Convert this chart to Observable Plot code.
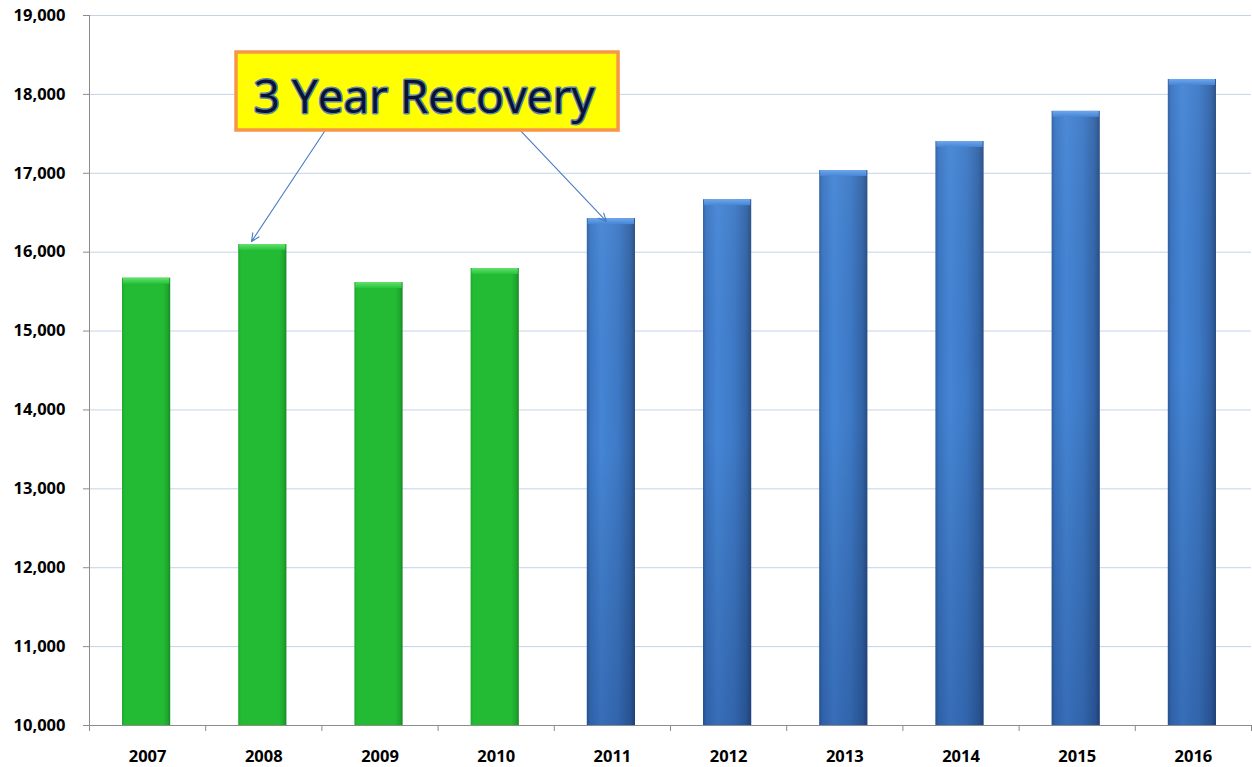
<!DOCTYPE html>
<html>
<head>
<meta charset="utf-8">
<script src="https://cdn.jsdelivr.net/npm/d3@7"></script>
<script src="https://cdn.jsdelivr.net/npm/@observablehq/plot@0.6"></script>
<style>
  html, body { margin: 0; padding: 0; background: #ffffff; }
  #chart svg { display: block; }
</style>
</head>
<body>
<div id="chart"></div>
<script>
// ---- data ----
const years = [2007, 2008, 2009, 2010, 2011, 2012, 2013, 2014, 2015, 2016];
const values = [15670, 16097, 15615, 15793, 16425, 16665, 17035, 17403, 17785, 18189];
const phases = ["Recession", "Recession", "Recession", "Recession", "Recovery", "Recovery", "Recovery", "Recovery", "Recovery", "Recovery"];
const yTicks = [10000, 11000, 12000, 13000, 14000, 15000, 16000, 17000, 18000, 19000];

// annotation (in data units: years / values)
const noteText = "3 Year Recovery";
const noteBox = [{x1: 2007.765, x2: 2011.053, y1: 17542, y2: 18531}];
const noteLabel = [{x: 2009.38, y: 17950, text: noteText}];
const noteArrows = [
  {x1: 2008.522, y1: 17530, x2: 2007.894, y2: 16135},
  {x1: 2010.209, y1: 17542, x2: 2010.949, y2: 16389}
];

const rows = years.map((year, i) => ({year, value: values[i], phase: phases[i]}));
const recession = rows.filter(d => d.phase === "Recession");
const recovery = rows.filter(d => d.phase === "Recovery");
const boundaries = [years[0] - 0.5, ...years.map(y => y + 0.5)];

const font = "'Open Sans', 'DejaVu Sans', sans-serif";
const barX = {x1: d => d.year - 0.5, x2: d => d.year + 0.5, insetLeft: 33, insetRight: 35};

const chart = Plot.plot({
  width: 1252,
  height: 767,
  marginTop: 15,
  marginBottom: 42,
  marginLeft: 89,
  marginRight: 1,
  style: {fontFamily: font, background: "#ffffff"},
  x: {type: "linear", domain: [years[0] - 0.5, years[years.length - 1] + 0.5]},
  y: {domain: [10000, 19000]},
  marks: [
    Plot.gridY(yTicks, {stroke: "#c3d3ea", strokeOpacity: 1, strokeWidth: 1}),
    // bars
    Plot.rectY(recession, {...barX, y1: 10000, y2: "value", fill: "url(#gradGreen)"}),
    Plot.rectY(recovery, {...barX, y1: 10000, y2: "value", fill: "url(#gradBlue)"}),
    Plot.rectY(recovery, {...barX, y1: 10000, y2: "value", fill: "url(#gradShade)"}),
    // top bevel
    Plot.rect(recession, {...barX, y1: "value", y2: "value", insetBottom: -6, insetLeft: 34, insetRight: 36, fill: "url(#bevelGreen)"}),
    Plot.rect(recovery, {...barX, y1: "value", y2: "value", insetBottom: -6, insetLeft: 34, insetRight: 36, fill: "url(#bevelBlue)"}),
    // axes
    Plot.ruleY([10000], {stroke: "#8c8c8c", strokeWidth: 1}),
    Plot.ruleX([years[0] - 0.5], {stroke: "#8c8c8c", strokeWidth: 1}),
    Plot.axisY(yTicks, {tickSize: 6, tickPadding: 18, stroke: "#8c8c8c", tickFormat: d3.format(","), fontSize: 16.5, fontWeight: "bold", fill: "#000", label: null}),
    Plot.axisX(boundaries, {tickSize: 6, stroke: "#8c8c8c", tickFormat: () => "", label: null}),
    Plot.axisX(years, {tickSize: 0, tickPadding: 25, tickFormat: d3.format("d"), fontSize: 16.5, fontWeight: "bold", fill: "#000", label: null}),
    // annotation
    Plot.arrow(noteArrows, {x1: "x1", y1: "y1", x2: "x2", y2: "y2", stroke: "#4a7cc0", strokeWidth: 1.1, headLength: 12, headAngle: 50}),
    Plot.rect(noteBox, {x1: "x1", x2: "x2", y1: "y1", y2: "y2", fill: "#ffff00", stroke: "#f79646", strokeWidth: 3.5}),
    Plot.text(noteLabel, {x: "x", y: "y", text: "text", fontSize: 46, fill: "#0a1236", stroke: "#3f70c4", strokeWidth: 3, strokeOpacity: 0.85, textAnchor: "middle", lineAnchor: "middle", fontFamily: font})
  ]
});

// gradients
const NS = "http://www.w3.org/2000/svg";
function grad(id, x2, y2, stops) {
  const g = document.createElementNS(NS, "linearGradient");
  g.setAttribute("id", id);
  g.setAttribute("x1", "0"); g.setAttribute("y1", "0");
  g.setAttribute("x2", x2); g.setAttribute("y2", y2);
  for (const [off, col, op] of stops) {
    const s = document.createElementNS(NS, "stop");
    s.setAttribute("offset", off);
    s.setAttribute("stop-color", col);
    s.setAttribute("stop-opacity", op == null ? 1 : op);
    g.appendChild(s);
  }
  return g;
}
const defs = document.createElementNS(NS, "defs");
defs.appendChild(grad("gradBlue", "1", "0", [["0", "#2f5f9f"], ["0.07", "#3a75c2"], ["0.3", "#4585d5"], ["0.65", "#3d79c6"], ["0.9", "#3263a6"], ["1", "#264d84"]]));
defs.appendChild(grad("gradGreen", "1", "0", [["0", "#1ea82d"], ["0.06", "#22bb33"], ["0.85", "#22bb33"], ["0.95", "#1ea52d"], ["1", "#168624"]]));
defs.appendChild(grad("gradShade", "0", "1", [["0", "#ffffff", 0.04], ["0.45", "#000000", 0.0], ["1", "#001040", 0.2]]));
defs.appendChild(grad("bevelBlue", "0", "1", [["0", "#6ea7ec"], ["1", "#4686d6"]]));
defs.appendChild(grad("bevelGreen", "0", "1", [["0", "#62e26f"], ["1", "#29c23a"]]));
chart.insertBefore(defs, chart.firstChild);

document.getElementById("chart").appendChild(chart);
</script>
</body>
</html>
